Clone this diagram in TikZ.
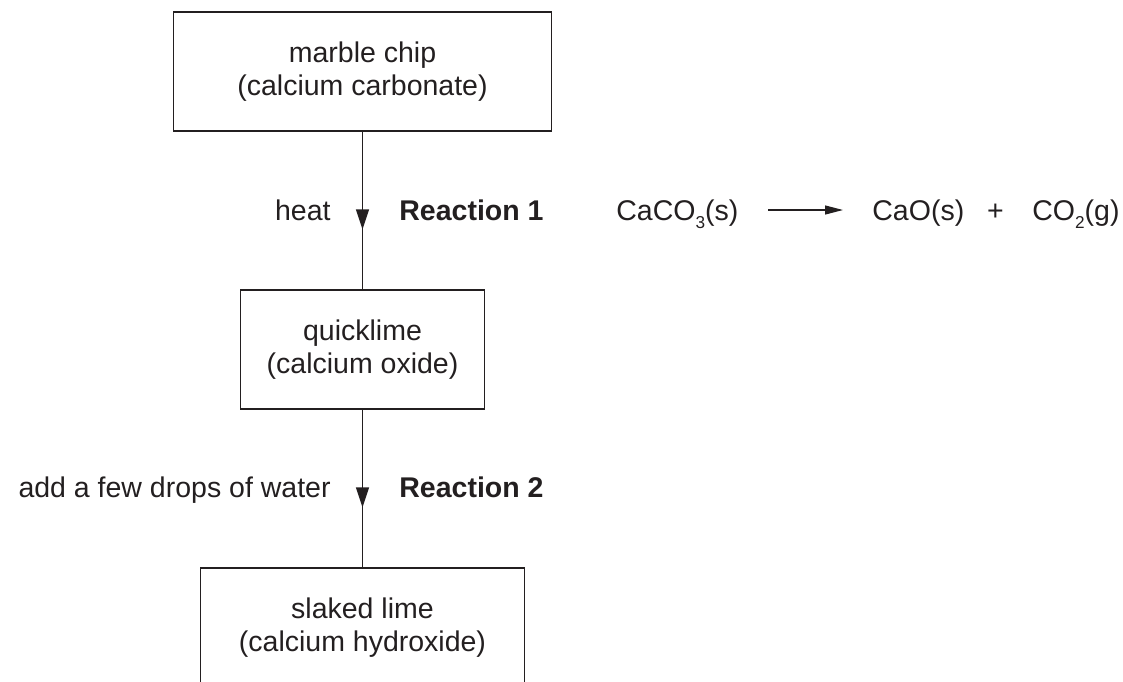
\documentclass[tikz,border=0pt]{standalone}
\usepackage{fontspec}
\setmainfont{Liberation Sans}
\usetikzlibrary{arrows.meta,decorations.markings}
\definecolor{ink}{RGB}{35,31,32}
% chemical subscript: small digit set well below the baseline
\newcommand\chemsub[1]{\raisebox{-4.3pt}{\fontsize{8.6}{10}\selectfont #1}}
\tikzset{
  stage/.style={draw=ink, line width=0.8pt, inner sep=0pt, align=center,
    text=ink},
  conn/.style={draw=ink, line width=0.7pt},
  midarrow/.style={postaction={decorate}, decoration={markings,
    mark=at position 0.62 with {\arrow[ink]{Triangle[length=10pt,width=6.5pt]}}}},
  lbl/.style={inner sep=0pt, text=ink},
}
\begin{document}
\begin{tikzpicture}[x=0.5pt, y=-0.5pt, font=\fontsize{14.25}{16.5}\selectfont]
\useasboundingbox (0,0) rectangle (1123,681);

% the three solids
\node[stage, minimum width=189pt, minimum height=59.5pt] (chip) at (362.5,71.5)
  {marble chip\\(calcium carbonate)};
\node[stage, minimum width=122pt, minimum height=59.5pt] (quick) at (362.5,349.5)
  {quicklime\\(calcium oxide)};
\node[stage, minimum width=162pt, minimum height=59.5pt] (slaked) at (362.5,627.5)
  {slaked lime\\(calcium hydroxide)};

% reaction steps
\draw[conn, midarrow] (chip.south) -- (quick.north);
\draw[conn, midarrow] (quick.south) -- (slaked.north);

\node[lbl, anchor=base east] (heat) at (331,220) {heat};
\node[lbl, anchor=base west] (r1) at (399,220) {\bfseries Reaction 1};
\node[lbl, anchor=base east] (water) at (331,497) {add a few drops of water};
\node[lbl, anchor=base west] (r2) at (399,497) {\bfseries Reaction 2};

% equation for reaction 1
\node[lbl, anchor=base west] (lhs) at (616,220) {CaCO\chemsub{3}(s)};
\coordinate (ya) at (768,210);
\coordinate (yb) at (843,210);
\draw[conn, line width=0.6pt, -{Triangle[length=9pt,width=4.5pt]}] (ya) -- (yb);
\node[lbl, anchor=base west] (cao) at (872,220) {CaO(s)};
\node[lbl, anchor=base] (plus) at (995.5,220) {+};
\node[lbl, anchor=base west] (co2) at (1032,220) {CO\chemsub{2}(g)};
\end{tikzpicture}
\end{document}
